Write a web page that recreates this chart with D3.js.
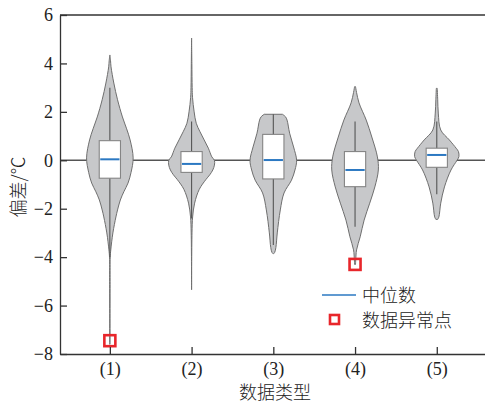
<!DOCTYPE html>
<html>
<head>
    <meta charset="utf-8">
    <style>
        body { margin: 0; background: #fff; }
        svg { display: block; }
        .axis text {
            font-family: 'Liberation Serif', 'Times New Roman', serif;
            font-size: 18px;
            fill: #222;
        }
        .axis path, .axis line {
            stroke: #333;
            stroke-width: 1.3;
        }
        .cjk {
            font-family: 'Noto Sans CJK SC', sans-serif;
            font-weight: 300;
            font-size: 18px;
            fill: #222;
        }
    </style>
</head>
<body>
<svg width="485" height="406"></svg>

<script src="https://cdnjs.cloudflare.com/ajax/libs/d3/7.8.5/d3.min.js"></script>
<script>
    // categories
    let categories = ["(1)", "(2)", "(3)", "(4)", "(5)"];
    let yTicks = [-8, -6, -4, -2, 0, 2, 4, 6];

    // violin outlines: [value, relative density]
    let violin1 = [[4.35, 0], [4.1, 0.03], [3.86, 0.05], [3.19, 0.17], [2.5, 0.33], [1.79, 0.54], [1.3, 0.72], [0.84, 0.87], [0.1, 1.0], [-0.5, 0.91], [-0.94, 0.78], [-1.3, 0.6], [-1.64, 0.45], [-2.05, 0.33], [-2.34, 0.26], [-3.0, 0.13], [-3.7, 0.04], [-4.0, 0.015], [-5.0, 0.01], [-7.6, 0.005]];
    let violin2 = [[5.05, 0], [4.0, 0.012], [3.0, 0.025], [2.6, 0.04], [2.0, 0.11], [1.53, 0.2], [1.2, 0.35], [0.84, 0.54], [0.5, 0.72], [0.14, 0.87], [0.0, 0.98], [-0.2, 0.98], [-0.4, 0.91], [-0.6, 0.78], [-0.8, 0.61], [-1.2, 0.33], [-1.77, 0.13], [-2.34, 0.045], [-3.0, 0.017], [-5.35, 0]];
    let violin3 = [[1.9, 0.39], [1.8, 0.52], [1.66, 0.59], [1.12, 0.7], [0.55, 0.87], [0.0, 1.0], [-0.4, 0.93], [-0.82, 0.78], [-1.35, 0.46], [-2.05, 0.3], [-3.0, 0.17], [-3.6, 0.11], [-3.8, 0.06], [-3.87, 0]];
    let violin4 = [[3.04, 0.02], [2.8, 0.065], [2.37, 0.17], [1.66, 0.48], [0.96, 0.72], [0.14, 0.96], [-0.4, 1.0], [-1.1, 0.85], [-1.77, 0.63], [-2.47, 0.39], [-3.16, 0.22], [-3.7, 0.065], [-4.1, 0.03], [-4.3, 0.02]];
    let violin5 = [[2.97, 0.02], [2.5, 0.04], [1.95, 0.065], [1.25, 0.17], [0.84, 0.54], [0.5, 0.83], [0.36, 0.93], [0.15, 0.95], [0.0, 0.87], [-0.4, 0.61], [-1.1, 0.33], [-1.77, 0.17], [-2.34, 0.09], [-2.44, 0.04]];
    let violins = [violin1, violin2, violin3, violin4, violin5];

    // box stats
    let q1 = [-0.74, -0.5, -0.77, -1.09, -0.29];
    let q3 = [0.81, 0.36, 1.07, 0.36, 0.5];
    let medians = [0.04, -0.15, 0.01, -0.4, 0.22];
    let whiskLo = [-4.0, -2.4, -3.5, -2.74, -1.4];
    let whiskHi = [3.0, 1.6, 1.9, 1.6, 1.6];

    // outliers: [category index, value]
    let outliers = [[1, -7.45], [4, -4.3]];

    let svg = d3.select("svg");
    let margin = { top: 15, right: 0, bottom: 52, left: 60 };
    let width = 485, height = 406;

    let x = d3.scaleLinear()
        .domain([0.39, 5.59])
        .range([margin.left, width - margin.right]);

    let y = d3.scaleLinear()
        .domain([-8, 6])
        .range([height - margin.bottom, margin.top]);

    // density -> half width in category units
    let dens = d3.scaleLinear().domain([0, 1]).range([0, 0.285]);
    let boxHalf = 0.13;

    // top frame line
    svg.append("line")
        .attr("x1", x(0.39)).attr("x2", x(5.59))
        .attr("y1", y(6)).attr("y2", y(6))
        .attr("stroke", "#333").attr("stroke-width", 1.3);

    // zero line
    svg.append("line")
        .attr("x1", x(0.39)).attr("x2", x(5.59))
        .attr("y1", y(0)).attr("y2", y(0))
        .attr("stroke", "#555").attr("stroke-width", 1.5);

    let g = svg.append("g")
        .selectAll("g")
        .data(violins)
        .join("g");

    g.append("path")
        .attr("fill", "#c7c8ca")
        .attr("stroke", "#6f6f6f")
        .attr("stroke-width", 1)
        .attr("d", (d, i) => d3.area()
            .curve(d3.curveCatmullRom)
            .y(p => y(p[0]))
            .x0(p => x(i + 1 - dens(p[1])))
            .x1(p => x(i + 1 + dens(p[1])))(d));

    // whiskers
    g.append("line")
        .attr("x1", (d, i) => x(i + 1)).attr("x2", (d, i) => x(i + 1))
        .attr("y1", (d, i) => y(whiskHi[i]))
        .attr("y2", (d, i) => y(whiskLo[i]))
        .attr("stroke", "#555").attr("stroke-width", 1.1);

    // boxes
    g.append("rect")
        .attr("x", (d, i) => x(i + 1 - boxHalf))
        .attr("width", (d, i) => x(i + 1 + boxHalf) - x(i + 1 - boxHalf))
        .attr("y", (d, i) => y(q3[i]))
        .attr("height", (d, i) => y(q1[i]) - y(q3[i]))
        .attr("fill", "#fff")
        .attr("stroke", "#858585")
        .attr("stroke-width", 1.1);

    // medians
    g.append("line")
        .attr("x1", (d, i) => x(i + 1 - boxHalf) + 1)
        .attr("x2", (d, i) => x(i + 1 + boxHalf) - 1)
        .attr("y1", (d, i) => y(medians[i]))
        .attr("y2", (d, i) => y(medians[i]))
        .attr("stroke", "#2b78c2").attr("stroke-width", 2);

    // outliers
    svg.append("g")
        .selectAll("rect")
        .data(outliers)
        .join("rect")
        .attr("x", d => x(d[0]) - 5.5)
        .attr("y", d => y(d[1]) - 5.5)
        .attr("width", 11).attr("height", 11)
        .attr("fill", "none")
        .attr("stroke", "#e8262b")
        .attr("stroke-width", 2.6);

    // axes
    svg.append("g")
        .attr("class", "axis")
        .attr("transform", `translate(0,${y(-8)})`)
        .call(d3.axisBottom(x)
            .tickValues([1, 2, 3, 4, 5])
            .tickFormat(d => categories[d - 1])
            .tickSizeInner(-7).tickSizeOuter(0).tickPadding(8));

    svg.append("g")
        .attr("class", "axis")
        .attr("transform", `translate(${x(0.39)},0)`)
        .call(d3.axisLeft(y)
            .tickValues(yTicks)
            .tickSizeInner(-7).tickSizeOuter(0).tickPadding(7));

    // axis titles
    svg.append("text")
        .attr("class", "cjk")
        .attr("x", 275).attr("y", 399)
        .attr("text-anchor", "middle")
        .text("数据类型");

    svg.append("text")
        .attr("class", "cjk")
        .attr("transform", "translate(25,187) rotate(-90)")
        .attr("text-anchor", "middle")
        .text("偏差/℃");

    // legend
    svg.append("line")
        .attr("x1", 322).attr("x2", 356)
        .attr("y1", 295).attr("y2", 295)
        .attr("stroke", "#2b78c2").attr("stroke-width", 1.5);
    svg.append("text")
        .attr("class", "cjk")
        .attr("x", 362).attr("y", 302)
        .text("中位数");
    svg.append("rect")
        .attr("x", 330).attr("y", 315)
        .attr("width", 9).attr("height", 9)
        .attr("fill", "none")
        .attr("stroke", "#e8262b").attr("stroke-width", 2.6);
    svg.append("text")
        .attr("class", "cjk")
        .attr("x", 362).attr("y", 327)
        .text("数据异常点");
</script>
</body>
</html>
